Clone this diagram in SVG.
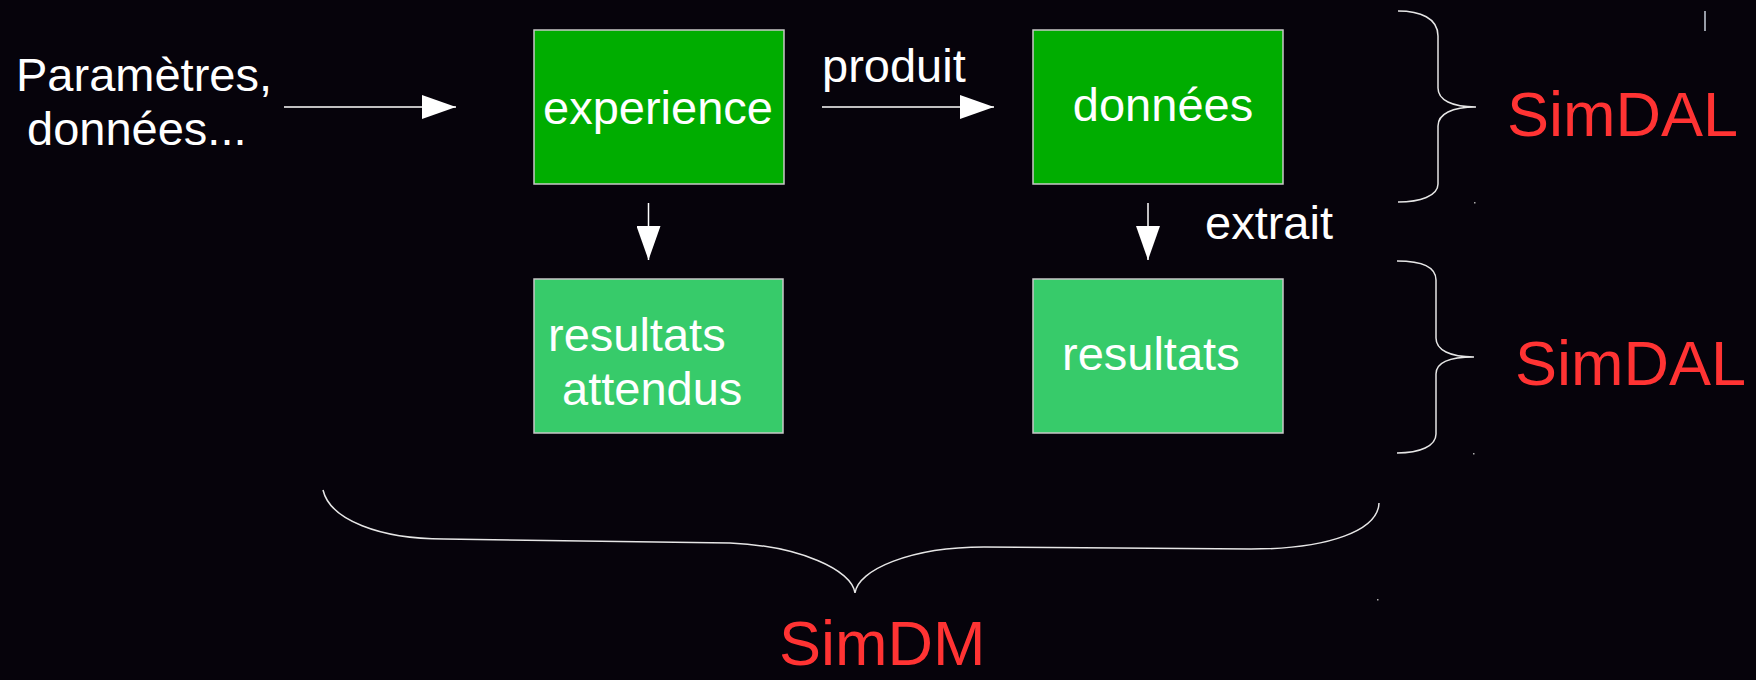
<svg xmlns="http://www.w3.org/2000/svg" width="1756" height="680" viewBox="0 0 1756 680">
<defs>
<style>
.t{font-family:"Liberation Sans",Arial,sans-serif;font-size:47px;fill:#ffffff}
.r{font-family:"Liberation Sans",Arial,sans-serif;font-size:63px;fill:#ff3333}
.dk{fill:#00ad00;stroke:#c8c8c8;stroke-width:1.5}
.lt{fill:#37cb6a;stroke:#c8c8c8;stroke-width:1.5}
.ln{stroke:#ffffff;stroke-width:1.5;fill:none}
.br{stroke:#e6e6e6;stroke-width:1.5;fill:none}
</style>
<marker id="ah" markerWidth="34" markerHeight="24" refX="34" refY="12" orient="auto" markerUnits="userSpaceOnUse">
<path d="M0,0 L34,12 L0,24 Z" fill="#ffffff"/>
</marker>
</defs>
<rect width="1756" height="680" fill="#06030b"/>
<g id="input">
<text class="t" x="16" y="91">Paramètres,</text>
<text class="t" x="27" y="145">données...</text>
</g>
<g id="experience">
<rect class="dk" x="534" y="30" width="250" height="154"/>
<text class="t" x="658" y="124" text-anchor="middle">experience</text>
</g>
<g id="donnees">
<rect class="dk" x="1033" y="30" width="250" height="154"/>
<text class="t" x="1163" y="121" text-anchor="middle">données</text>
</g>
<g id="resultats-attendus">
<rect class="lt" x="534" y="279" width="249" height="154"/>
<text class="t" x="548" y="351">resultats</text>
<text class="t" x="562" y="405">attendus</text>
</g>
<g id="resultats">
<rect class="lt" x="1033" y="279" width="250" height="154"/>
<text class="t" x="1062" y="370">resultats</text>
</g>
<g id="connectors">
<line class="ln" x1="284" y1="107" x2="456" y2="107" marker-end="url(#ah)"/>
<line class="ln" x1="822" y1="107" x2="994" y2="107" marker-end="url(#ah)"/>
<text class="t" x="822" y="82">produit</text>
<line class="ln" x1="648.5" y1="203" x2="648.5" y2="260" marker-end="url(#ah)"/>
<line class="ln" x1="1148" y1="203" x2="1148" y2="260" marker-end="url(#ah)"/>
<text class="t" x="1205" y="239">extrait</text>
</g>
<g id="simdal-top">
<path class="br" d="M1398,11 C1420,11 1438,18 1438,36 L1438,88 C1438,100 1452,107 1476,107 C1452,107 1438,114 1438,126 L1438,184 C1438,196 1420,202 1398,202"/>
<text class="r" x="1507" y="136">SimDAL</text>
</g>
<g id="simdal-bottom">
<path class="br" d="M1397,261 C1420,261 1436,266 1436,280 L1436,338 C1436,350 1450,357 1474,357 C1450,357 1436,362 1436,374 L1436,434 C1436,446 1420,453 1397,453"/>
<text class="r" x="1515" y="385">SimDAL</text>
</g>
<g id="simdm">
<path class="br" d="M323,490 C330,520 380,539 444,539 L730,543 C800,546 852,570 855,593 C858,570 910,547 984,547 L1251,549 C1330,549 1378,530 1379,503"/>
<text class="r" x="779" y="665">SimDM</text>
</g>
<g id="marks">
<line x1="1705" y1="11" x2="1705" y2="31" stroke="#c8d0dc" stroke-width="1.5"/>
<rect x="1474" y="202" width="1.5" height="1.5" fill="#aaaaaa"/>
<rect x="1473" y="453" width="1.5" height="1.5" fill="#aaaaaa"/>
<rect x="1377" y="599" width="1.5" height="1.5" fill="#aaaaaa"/>
</g>
</svg>
